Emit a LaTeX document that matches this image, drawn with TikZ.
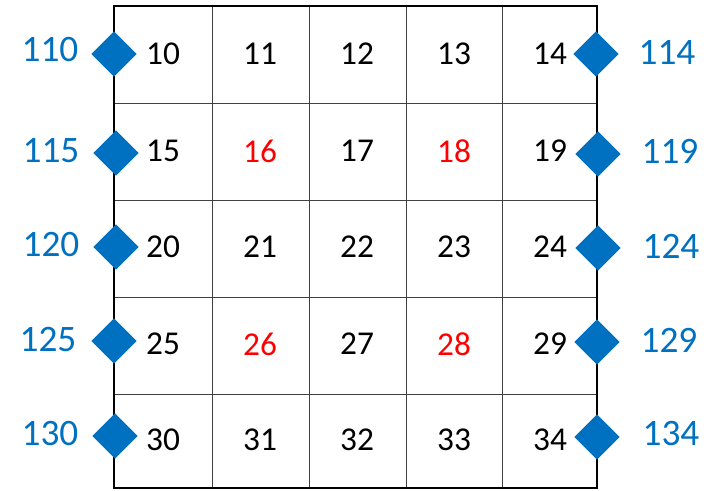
\documentclass[tikz,border=0pt]{standalone}
\usepackage{fontspec}
\setmainfont{Carlito}
\usetikzlibrary{shapes.geometric}
\definecolor{mblue}{HTML}{0070C0}
\definecolor{mred}{HTML}{FF0000}
\begin{document}
\begin{tikzpicture}[x=0.75pt,y=-0.75pt,
  cellnum/.style={font=\fontsize{25}{30}\selectfont,text=black,inner sep=0pt},
  rednum/.style={cellnum,text=mred},
  portlbl/.style={font=\fontsize{28}{33}\selectfont,text=mblue,inner sep=0pt},
  port/.style={shape=diamond,fill=mblue,draw=none,inner sep=0pt,aspect=1,minimum width=34pt,minimum height=34pt},
  gridline/.style={draw=black!75,line width=0.75pt},
  border/.style={draw=black,line width=1.6pt}]
\useasboundingbox (0,0) rectangle (711,490);
% inner grid
\foreach \x in {212,309,406,502} \draw[gridline] (\x,6) -- (\x,488);
\foreach \y in {103,200,297,394} \draw[gridline] (114,\y) -- (597,\y);
% outer border
\draw[border] (114,6) rectangle (597,488);
% cell numbers
\node[cellnum] (c10) at (163,54) {10};
\node[cellnum] (c11) at (260,54) {11};
\node[cellnum] (c12) at (357,54) {12};
\node[cellnum] (c13) at (454,54) {13};
\node[cellnum] (c14) at (550,54) {14};
\node[cellnum] (c15) at (163,151) {15};
\node[rednum] (c16) at (260,151) {16};
\node[cellnum] (c17) at (357,151) {17};
\node[rednum] (c18) at (454,151) {18};
\node[cellnum] (c19) at (550,151) {19};
\node[cellnum] (c20) at (163,247) {20};
\node[cellnum] (c21) at (260,247) {21};
\node[cellnum] (c22) at (357,247) {22};
\node[cellnum] (c23) at (454,247) {23};
\node[cellnum] (c24) at (550,247) {24};
\node[cellnum] (c25) at (163,344) {25};
\node[rednum] (c26) at (260,344) {26};
\node[cellnum] (c27) at (357,344) {27};
\node[rednum] (c28) at (454,344) {28};
\node[cellnum] (c29) at (550,344) {29};
\node[cellnum] (c30) at (163,440) {30};
\node[cellnum] (c31) at (260,440) {31};
\node[cellnum] (c32) at (357,440) {32};
\node[cellnum] (c33) at (454,440) {33};
\node[cellnum] (c34) at (550,440) {34};
% ports
\node[port] (d110) at (114,54) {};
\node[port] (d115) at (116,153) {};
\node[port] (d120) at (116,247) {};
\node[port] (d125) at (114,341) {};
\node[port] (d130) at (115,436) {};
\node[port] (d114) at (596,54) {};
\node[port] (d119) at (598,154) {};
\node[port] (d124) at (598,248) {};
\node[port] (d129) at (597,342) {};
\node[port] (d134) at (597,437) {};
% port labels
\node[portlbl] (p110) at (50,50) {110};
\node[portlbl] (p115) at (51,151) {115};
\node[portlbl] (p120) at (51,245) {120};
\node[portlbl] (p125) at (48,340) {125};
\node[portlbl] (p130) at (50,434) {130};
\node[portlbl] (p114) at (667,52) {114};
\node[portlbl] (p119) at (670,151) {119};
\node[portlbl] (p124) at (671,246) {124};
\node[portlbl] (p129) at (669,340) {129};
\node[portlbl] (p134) at (671,434) {134};
\end{tikzpicture}
\end{document}
